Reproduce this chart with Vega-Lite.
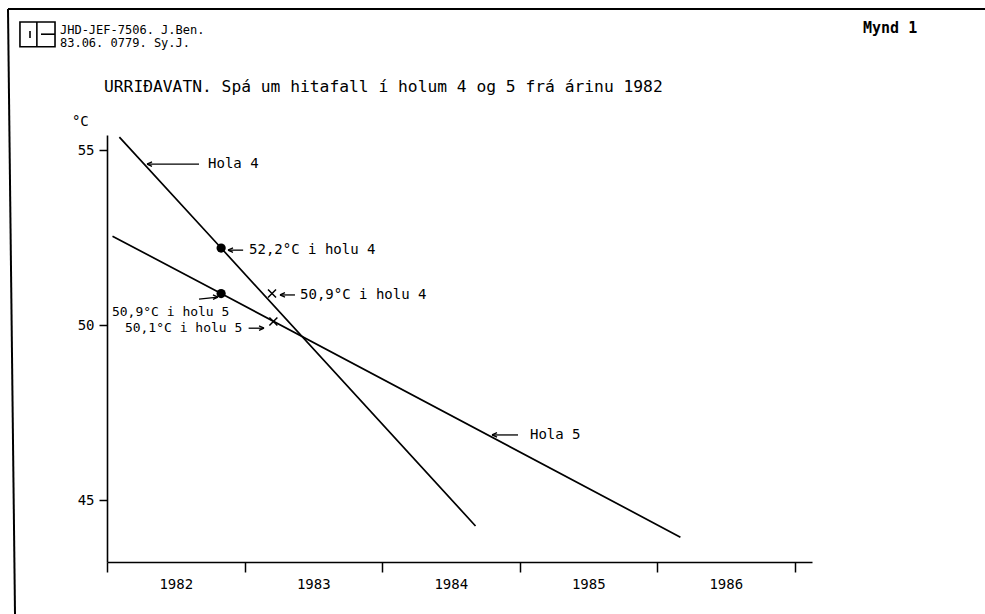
{
  "$schema": "https://vega.github.io/schema/vega-lite/v6.json",
  "autosize": {"type": "none"},
  "width": 705,
  "height": 427,
  "padding": {"left": 107, "top": 135, "right": 173, "bottom": 52},
  "background": "white",
  "config": {
    "view": {"stroke": null},
    "font": "DejaVu Sans Mono",
    "axis": {"grid": false, "domainColor": "black", "tickColor": "black", "labelColor": "black", "labelFont": "DejaVu Sans Mono", "labelFontSize": 14, "domainWidth": 1.6, "tickWidth": 1.5}
  },
  "datasets": {
    "lines": [
      {"hola": "Hola 4", "yr": 1982.09, "t": 55.37},
      {"hola": "Hola 4", "yr": 1982.83, "t": 52.2},
      {"hola": "Hola 4", "yr": 1984.68, "t": 44.26},
      {"hola": "Hola 5", "yr": 1982.04, "t": 52.54},
      {"hola": "Hola 5", "yr": 1982.83, "t": 50.9},
      {"hola": "Hola 5", "yr": 1986.17, "t": 43.94}
    ],
    "measured": [
      {"hola": "Hola 4", "yr": 1982.83, "t": 52.2},
      {"hola": "Hola 5", "yr": 1982.83, "t": 50.9}
    ],
    "predicted": [
      {"hola": "Hola 4", "yr": 1983.2, "t": 50.9},
      {"hola": "Hola 5", "yr": 1983.21, "t": 50.1}
    ],
    "arrows": [
      {"yr": 1982.291, "t": 54.6, "yr2": 1982.669, "t2": 54.6, "dir": "left"},
      {"yr": 1982.88, "t": 52.14, "yr2": 1982.99, "t2": 52.14, "dir": "left"},
      {"yr": 1983.258, "t": 50.86, "yr2": 1983.367, "t2": 50.86, "dir": "left"},
      {"yr": 1982.807, "t": 50.8, "yr2": 1982.669, "t2": 50.74, "dir": "right"},
      {"yr": 1983.142, "t": 49.91, "yr2": 1983.03, "t2": 49.91, "dir": "right"},
      {"yr": 1984.8, "t": 46.86, "yr2": 1984.989, "t2": 46.86, "dir": "left"}
    ],
    "notes": [
      {"yr": 1982.735, "t": 54.6, "label": "Hola 4"},
      {"yr": 1983.033, "t": 52.14, "label": "52,2°C i holu 4"},
      {"yr": 1983.404, "t": 50.86, "label": "50,9°C i holu 4"},
      {"yr": 1985.076, "t": 46.86, "label": "Hola 5"},
      {"yr": 1981.745, "t": 55.8, "label": "°C"}
    ],
    "notes5": [
      {"yr": 1982.036, "t": 50.37, "label": "50,9°C i holu 5"},
      {"yr": 1982.13, "t": 49.91, "label": "50,1°C i holu 5"}
    ],
    "titletxt": [
      {"yr": 1981.978, "t": 56.8, "label": "URRIÐAVATN. Spá um hitafall í holum 4 og 5 frá árinu 1982"}
    ],
    "header": [
      {"yr": 1981.658, "t": 58.43, "label": "JHD-JEF-7506. J.Ben."},
      {"yr": 1981.658, "t": 58.06, "label": "83.06. 0779. Sy.J."}
    ],
    "mynd": [
      {"yr": 1987.498, "t": 58.49, "label": "Mynd 1"}
    ],
    "frame": [
      {"yr": 1981.28, "t": 59.03, "yr2": 1988.39, "t2": 59.03},
      {"yr": 1981.28, "t": 59.03, "yr2": 1981.331, "t2": 41.74}
    ],
    "logobox": [
      {"yr": 1981.367, "t": 58.66, "yr2": 1981.622, "t2": 57.95}
    ],
    "logolines": [
      {"yr": 1981.49, "t": 58.66, "yr2": 1981.49, "t2": 57.95},
      {"yr": 1981.44, "t": 58.4, "yr2": 1981.44, "t2": 58.2},
      {"yr": 1981.52, "t": 58.31, "yr2": 1981.622, "t2": 58.31}
    ]
  },
  "encoding": {
    "x": {
      "field": "yr",
      "type": "quantitative",
      "scale": {"domain": [1982, 1987.127], "nice": false, "zero": false},
      "axis": {
        "title": null,
        "values": [1982, 1983, 1984, 1985, 1986, 1987],
        "format": "d",
        "labelExpr": "datum.value >= 1987 ? '' : datum.label",
        "labelOffset": 68.75,
        "tickSize": 10,
        "labelPadding": 5,
        "labelOverlap": false,
        "labelFlush": false,
        "labelBound": false
      }
    },
    "y": {
      "field": "t",
      "type": "quantitative",
      "scale": {"domain": [43.23, 55.43], "nice": false, "zero": false},
      "axis": {
        "title": null,
        "values": [45, 50, 55],
        "tickSize": 8,
        "labelPadding": 5,
        "labelOverlap": false
      }
    }
  },
  "layer": [
    {
      "data": {"name": "frame"},
      "mark": {"type": "rule", "color": "black", "strokeWidth": 2},
      "encoding": {"x2": {"field": "yr2"}, "y2": {"field": "t2"}}
    },
    {
      "data": {"name": "logobox"},
      "mark": {"type": "rect", "fill": null, "stroke": "black", "strokeWidth": 1.6},
      "encoding": {"x2": {"field": "yr2"}, "y2": {"field": "t2"}}
    },
    {
      "data": {"name": "logolines"},
      "mark": {"type": "rule", "color": "black", "strokeWidth": 1.6},
      "encoding": {"x2": {"field": "yr2"}, "y2": {"field": "t2"}}
    },
    {
      "data": {"name": "lines"},
      "mark": {"type": "line", "color": "black", "strokeWidth": 1.7},
      "encoding": {"detail": {"field": "hola", "type": "nominal"}}
    },
    {
      "data": {"name": "measured"},
      "mark": {"type": "point", "shape": "circle", "filled": true, "color": "black", "size": 85, "opacity": 1}
    },
    {
      "data": {"name": "predicted"},
      "mark": {"type": "point", "shape": "M-1,-1L1,1M-1,1L1,-1", "filled": false, "color": "black", "strokeWidth": 1.5, "size": 64, "opacity": 1}
    },
    {
      "data": {"name": "arrows"},
      "mark": {"type": "rule", "color": "black", "strokeWidth": 1.3},
      "encoding": {"x2": {"field": "yr2"}, "y2": {"field": "t2"}}
    },
    {
      "data": {"name": "arrows"},
      "mark": {"type": "point", "filled": false, "color": "black", "strokeWidth": 1.3, "size": 100, "opacity": 1},
      "encoding": {
        "shape": {
          "field": "dir",
          "type": "nominal",
          "scale": {"domain": ["left", "right"], "range": ["M0,0L1,-0.45M0,0L1,0.45", "M0,0L-1,-0.45M0,0L-1,0.45"]},
          "legend": null
        }
      }
    },
    {
      "data": {"name": "notes"},
      "mark": {"type": "text", "align": "left", "baseline": "middle", "font": "DejaVu Sans Mono", "fontSize": 14, "color": "black"},
      "encoding": {"text": {"field": "label"}}
    },
    {
      "data": {"name": "notes5"},
      "mark": {"type": "text", "align": "left", "baseline": "middle", "font": "DejaVu Sans Mono", "fontSize": 13, "color": "black"},
      "encoding": {"text": {"field": "label"}}
    },
    {
      "data": {"name": "titletxt"},
      "mark": {"type": "text", "align": "left", "baseline": "middle", "font": "DejaVu Sans Mono", "fontSize": 16.3, "color": "black"},
      "encoding": {"text": {"field": "label"}}
    },
    {
      "data": {"name": "header"},
      "mark": {"type": "text", "align": "left", "baseline": "middle", "font": "DejaVu Sans Mono", "fontSize": 12, "color": "black"},
      "encoding": {"text": {"field": "label"}}
    },
    {
      "data": {"name": "mynd"},
      "mark": {"type": "text", "align": "left", "baseline": "middle", "font": "DejaVu Sans Mono", "fontSize": 15, "fontWeight": "bold", "color": "black"},
      "encoding": {"text": {"field": "label"}}
    }
  ]
}
